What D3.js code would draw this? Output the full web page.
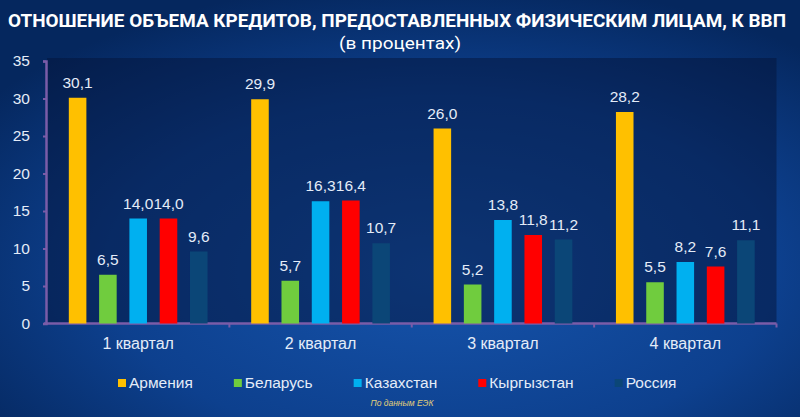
<!DOCTYPE html>
<html>
<head>
<meta charset="utf-8">
<script src="https://cdn.jsdelivr.net/npm/d3@7/dist/d3.min.js"></script>
<style>
  html, body { margin: 0; padding: 0; background: #082f6e; }
  svg { display: block; }
</style>
</head>
<body>
<div id="chart"></div>
<script>
(function() {
    'use strict';

    // data
    const quarters = ['1 квартал', '2 квартал', '3 квартал', '4 квартал'],
        countries = ['Армения', 'Беларусь', 'Казахстан', 'Кыргызстан', 'Россия'],
        colors = ['#ffc000', '#70cc3e', '#00b0f0', '#ff0000', '#0b4677'],
        armenia = [30.1, 29.9, 26.0, 28.2],
        belarus = [6.5, 5.7, 5.2, 5.5],
        kazakhstan = [14.0, 16.3, 13.8, 8.2],
        kyrgyzstan = [14.0, 16.4, 11.8, 7.6],
        russia = [9.6, 10.7, 11.2, 11.1],
        yTicks = [0, 5, 10, 15, 20, 25, 30, 35];

    const series = [armenia, belarus, kazakhstan, kyrgyzstan, russia];

    const width = 800,
        height = 417,
        font = '"Liberation Sans", Arial, sans-serif',
        textColor = '#e4ecf8',
        axisColor = '#7a5ca8';

    const svg = d3.select('#chart')
        .append('svg')
        .attr('width', width)
        .attr('height', height)
        .attr('viewBox', '0 0 ' + width + ' ' + height);

    // background
    const defs = svg.append('defs');
    const bg = defs.append('radialGradient')
        .attr('id', 'bg')
        .attr('cx', '55%').attr('cy', '65%').attr('r', '70%');
    bg.append('stop').attr('offset', '0%').attr('stop-color', '#1654ac');
    bg.append('stop').attr('offset', '60%').attr('stop-color', '#0d408e');
    bg.append('stop').attr('offset', '100%').attr('stop-color', '#05275e');

    svg.append('rect')
        .attr('width', width).attr('height', height)
        .attr('fill', 'url(#bg)');

    const x0 = d3.scaleBand()
        .domain(quarters)
        .range([47, 776.5])
        .padding(0);

    const x1 = d3.scaleBand()
        .domain(countries)
        .range([0, x0.bandwidth()])
        .paddingInner(0.42)
        .paddingOuter(0.72);

    const y = d3.scaleLinear()
        .domain([0, 35])
        .range([323.5, 61]);

    // plot area (darker panel)
    svg.append('rect')
        .attr('x', x0.range()[0])
        .attr('y', 58)
        .attr('width', x0.range()[1] - x0.range()[0])
        .attr('height', y(0) - 58)
        .attr('fill', '#03143a')
        .attr('opacity', 0.5);

    // title
    svg.append('text')
        .attr('x', 8)
        .attr('y', 27)
        .attr('textLength', 778)
        .attr('lengthAdjust', 'spacingAndGlyphs')
        .style('font-family', 'Roboto, sans-serif')
        .style('font-weight', 'bold')
        .style('font-size', '18px')
        .style('fill', '#ffffff')
        .text('ОТНОШЕНИЕ ОБЪЕМА КРЕДИТОВ, ПРЕДОСТАВЛЕННЫХ ФИЗИЧЕСКИМ ЛИЦАМ, К ВВП');

    svg.append('text')
        .attr('x', 339)
        .attr('y', 49)
        .attr('textLength', 122)
        .attr('lengthAdjust', 'spacingAndGlyphs')
        .style('font-family', 'Roboto, sans-serif')
        .style('font-size', '17px')
        .style('fill', '#ffffff')
        .text('(в процентах)');

    // y axis
    const yAxis = svg.append('g')
        .attr('transform', 'translate(46,0)')
        .call(d3.axisLeft(y).tickValues(yTicks).tickSize(3).tickPadding(13));
    yAxis.select('.domain').attr('stroke', axisColor).attr('stroke-width', 2.5);
    yAxis.selectAll('.tick line').attr('stroke', axisColor).attr('stroke-width', 2);
    yAxis.selectAll('.tick text')
        .style('font-family', font)
        .style('font-size', '15.5px')
        .style('fill', textColor);

    // x axis
    const xAxis = svg.append('g')
        .attr('transform', 'translate(0,' + y(0) + ')');
    xAxis.append('line')
        .attr('x1', x0.range()[0] - 3).attr('x2', x0.range()[1])
        .attr('stroke', axisColor).attr('stroke-width', 2.5);
    xAxis.selectAll('.sep')
        .data(quarters.slice(1).concat(['end']))
        .enter().append('line')
        .attr('class', 'sep')
        .attr('x1', d => d === 'end' ? x0.range()[1] : x0(d))
        .attr('x2', d => d === 'end' ? x0.range()[1] : x0(d))
        .attr('y1', 0).attr('y2', 4)
        .attr('stroke', axisColor).attr('stroke-width', 2);
    xAxis.selectAll('.cat')
        .data(quarters)
        .enter().append('text')
        .attr('class', 'cat')
        .attr('x', d => x0(d) + x0.bandwidth() / 2)
        .attr('y', 25)
        .attr('text-anchor', 'middle')
        .style('font-family', font)
        .style('font-size', '16px')
        .style('fill', textColor)
        .text(d => d);

    // bars
    const fmt = d3.format('.1f');
    const groups = svg.selectAll('.group')
        .data(quarters)
        .enter().append('g')
        .attr('class', 'group')
        .attr('transform', d => 'translate(' + x0(d) + ',0)');

    groups.selectAll('rect')
        .data((q, qi) => countries.map((c, ci) => ({country: c, idx: ci, value: series[ci][qi]})))
        .enter().append('rect')
        .attr('x', d => x1(d.country))
        .attr('y', d => y(d.value))
        .attr('width', x1.bandwidth())
        .attr('height', d => y(0) - y(d.value))
        .attr('fill', d => colors[d.idx]);

    groups.selectAll('.val')
        .data((q, qi) => countries.map((c, ci) => ({country: c, idx: ci, value: series[ci][qi]})))
        .enter().append('text')
        .attr('class', 'val')
        .attr('x', d => x1(d.country) + x1.bandwidth() / 2)
        .attr('y', d => y(d.value) - 10)
        .attr('text-anchor', 'middle')
        .style('font-family', font)
        .style('font-size', '15.5px')
        .style('fill', textColor)
        .text(d => fmt(d.value).replace('.', ','));

    // legend
    const legend = svg.append('g').attr('transform', 'translate(118,388)');
    let lx = 0;
    countries.forEach((c, i) => {
        const item = legend.append('g').attr('transform', 'translate(' + lx + ',0)');
        item.append('rect')
            .attr('x', 0).attr('y', -9)
            .attr('width', 8).attr('height', 8)
            .attr('fill', colors[i]);
        const t = item.append('text')
            .attr('x', 11)
            .style('font-family', font)
            .style('font-size', '15.5px')
            .style('fill', textColor)
            .text(c);
        lx += 11 + t.node().getComputedTextLength() + 41;
    });

    // source note
    svg.append('text')
        .attr('x', 402)
        .attr('y', 406)
        .attr('text-anchor', 'middle')
        .style('font-family', '"Liberation Sans Narrow", "Liberation Sans", sans-serif')
        .style('font-style', 'italic')
        .style('font-size', '8.5px')
        .style('fill', '#e0cf7a')
        .text('По данным ЕЭК');
})();
</script>
</body>
</html>
